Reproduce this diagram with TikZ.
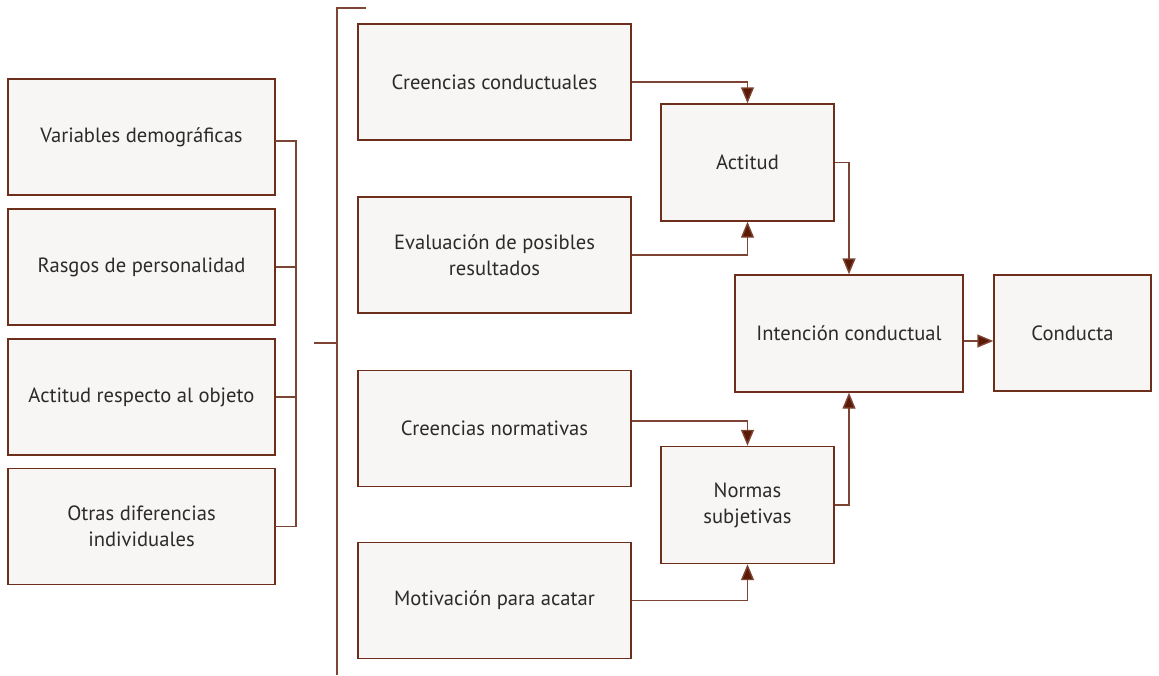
\documentclass[tikz,border=0pt]{standalone}
\usepackage{fontspec}
\setmainfont{PT Sans}
\usetikzlibrary{arrows.meta}
\definecolor{boxfill}{HTML}{F7F6F4}
\definecolor{boxline}{HTML}{6E2E1C}
\definecolor{conn}{HTML}{7E4433}
\definecolor{tipcol}{HTML}{5A1A05}
\definecolor{txt}{HTML}{2B2B2B}
\tikzset{
  box/.style={draw=boxline, fill=boxfill, line width=1.4pt, align=center, text=txt,
    font=\fontsize{20.6}{26}\selectfont, inner sep=0pt},
  lbox/.style={box, minimum width=267pt, minimum height=116pt},
  mbox/.style={box, minimum width=273pt, minimum height=116pt},
  sbox/.style={box, minimum width=173pt, minimum height=117pt},
  conline/.style={draw=conn, line width=1.4pt},
  arr/.style={conline, -{Triangle[width=13pt,length=16pt,fill=tipcol]}, color=conn},
}
\begin{document}
\begin{tikzpicture}[x=1pt,y=-1pt]
\useasboundingbox (0,0) rectangle (1159,675);
% left column
\node[lbox] (v1) at (141.5,137) {Variables demográficas};
\node[lbox] (v2) at (141.5,267) {Rasgos de personalidad};
\node[lbox] (v3) at (141.5,397) {Actitud respecto al objeto};
\node[lbox] (v4) at (141.5,526.5) {Otras diferencias\\individuales};
% middle column
\node[mbox] (m1) at (494.5,82) {Creencias conductuales};
\node[mbox] (m2) at (494.5,255) {Evaluación de posibles\\resultados};
\node[mbox] (m3) at (494.5,428.5) {Creencias normativas};
\node[mbox] (m4) at (494.5,600.5) {Motivación para acatar};
% right
\node[sbox] (act) at (747.5,162.5) {Actitud};
\node[sbox] (nor) at (747.5,505) {Normas\\subjetivas};
\node[box, minimum width=228pt, minimum height=117pt] (int) at (849,333.5) {Intención conductual};
\node[box, minimum width=157pt, minimum height=116pt] (con) at (1072.5,333) {Conducta};
% brackets
\coordinate (bk) at (296,0);
\coordinate (b1) at (314,343);
\coordinate (b2) at (337,343);
\coordinate (t1) at (366,8);
\coordinate (t2) at (337,8);
\coordinate (t3) at (337,675);
\coordinate (ie) at ([yshift=-7.5pt]int.east);
\draw[conline, line cap=rect] ([yshift=-4pt]v1.east) -| (bk |- v4.east) -- (v4.east);
\draw[conline] (v2.east) -- (bk |- v2.east);
\draw[conline] (v3.east) -- (bk |- v3.east);
\draw[conline] (b1) -- (b2);
\draw[conline] (t1) -- (t2) -- (t3);
% arrows
\draw[arr] (m1.east) -| (act.north);
\draw[arr] (m2.east) -| (act.south);
\draw[arr] ([yshift=7.5pt]m3.east) -| (nor.north);
\draw[arr] (m4.east) -| (nor.south);
\draw[arr] (act.east) -| (int.north);
\draw[arr] (nor.east) -| (int.south);
\draw[arr] (ie) -- (con.west |- ie);
\end{tikzpicture}
\end{document}
